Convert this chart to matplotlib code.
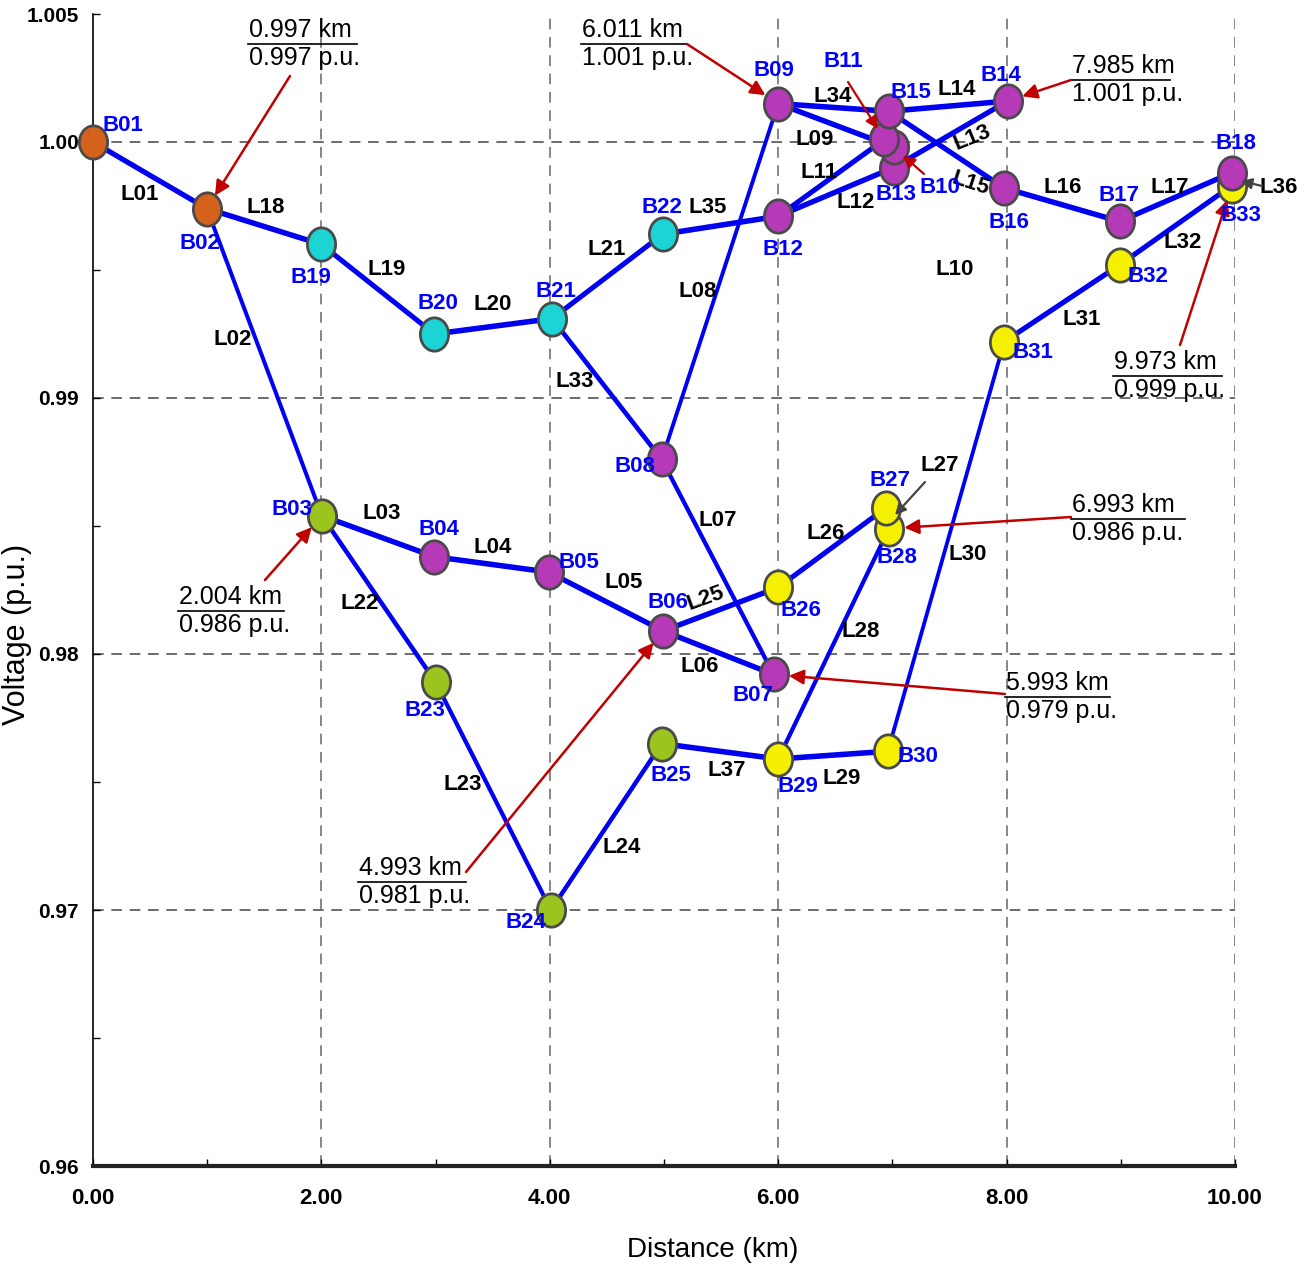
import numpy as np
import matplotlib.pyplot as plt
from matplotlib.path import Path

plt.rcParams['font.family'] = ['Liberation Sans Narrow', 'Liberation Sans', 'DejaVu Sans']

# bus data: distance from source (km) and voltage (p.u.)
bus_names = ['B01', 'B02', 'B03', 'B04', 'B05', 'B06', 'B07', 'B08', 'B09', 'B10', 'B11',
             'B12', 'B13', 'B14', 'B15', 'B16', 'B17', 'B18', 'B19', 'B20', 'B21', 'B22',
             'B23', 'B24', 'B25', 'B26', 'B27', 'B28', 'B29', 'B30', 'B31', 'B32', 'B33']
bus_km = [0.00, 0.997, 2.004, 2.99, 3.99, 4.993, 5.96, 4.98, 6.00, 7.01, 6.93,
          6.00, 7.01, 8.01, 6.97, 7.98, 8.99, 9.973, 2.00, 2.99, 4.02, 4.99,
          3.00, 4.01, 4.98, 6.00, 6.94, 6.97, 6.00, 6.96, 7.98, 8.99, 9.973]
bus_pu = [1.0000, 0.9974, 0.9854, 0.9838, 0.9832, 0.9809, 0.9792, 0.9876, 1.0015, 0.9998, 1.0001,
          0.9971, 0.9990, 1.0016, 1.0012, 0.9982, 0.9969, 0.9988, 0.9960, 0.9925, 0.9931, 0.9964,
          0.9789, 0.9700, 0.9765, 0.9826, 0.9857, 0.9849, 0.9759, 0.9762, 0.9922, 0.9952, 0.9983]
bus_group = ['src', 'src', 'g1', 'p', 'p', 'p', 'p', 'p', 'p', 'p', 'p',
             'p', 'p', 'p', 'p', 'p', 'p', 'p', 'c', 'c', 'c', 'c',
             'g1', 'g1', 'g1', 'y', 'y', 'y', 'y', 'y', 'y', 'y', 'y']

# branches
line_names = ['L01', 'L02', 'L03', 'L04', 'L05', 'L06', 'L07', 'L08', 'L09', 'L10', 'L11', 'L12',
              'L13', 'L14', 'L15', 'L16', 'L17', 'L18', 'L19', 'L20', 'L21', 'L22', 'L23', 'L24',
              'L25', 'L26', 'L27', 'L28', 'L29', 'L30', 'L31', 'L32', 'L33', 'L34', 'L35', 'L36', 'L37']
line_from = ['B01', 'B02', 'B03', 'B04', 'B05', 'B06', 'B07', 'B08', 'B09', 'B10', 'B11', 'B12',
             'B13', 'B14', 'B15', 'B16', 'B17', 'B02', 'B19', 'B20', 'B21', 'B03', 'B23', 'B24',
             'B06', 'B26', 'B27', 'B28', 'B29', 'B30', 'B31', 'B32', 'B21', 'B09', 'B22', 'B33', 'B25']
line_to = ['B02', 'B03', 'B04', 'B05', 'B06', 'B07', 'B08', 'B09', 'B10', 'B11', 'B12', 'B13',
           'B14', 'B15', 'B16', 'B17', 'B18', 'B19', 'B20', 'B21', 'B22', 'B23', 'B24', 'B25',
           'B26', 'B27', 'B28', 'B29', 'B30', 'B31', 'B32', 'B33', 'B08', 'B15', 'B12', 'B18', 'B29']

# annotated buses
annot_bus = ['B02', 'B09', 'B14', 'B33', 'B03', 'B06', 'B07', 'B28']
annot_km = ['0.997 km', '6.011 km', '7.985 km', '9.973 km', '2.004 km', '4.993 km', '5.993 km', '6.993 km']
annot_pu = ['0.997 p.u.', '1.001 p.u.', '1.001 p.u.', '0.999 p.u.', '0.986 p.u.', '0.981 p.u.',
            '0.979 p.u.', '0.986 p.u.']

colors = {'src': '#D4621C', 'g1': '#9CC41E', 'p': '#B63AB8', 'c': '#1CD4D4', 'y': '#F4F000'}
idx = {n: i for i, n in enumerate(bus_names)}

W, H = 1313, 1272
fig = plt.figure(figsize=(W / 100, H / 100), dpi=100)
ax = fig.add_axes([93 / W, 1 - 1166 / H, 1142 / W, 1152 / H])
ax.set_xlim(0, 10)
ax.set_ylim(0.96, 1.005)


def px(xp, yp):
    # reference pixel -> data coords
    return (xp - 93) / 114.2, 1 - (yp - 142) / 25600.0


# grid
for v in [0.97, 0.98, 0.99, 1.00]:
    ax.axhline(v, color='#444444', lw=1.1, ls=(0, (7, 5)), zorder=0)
for v in [2, 4, 6, 8, 10]:
    ax.axvline(v, color='#666666', lw=1.1, ls=(0, (7, 5)), zorder=0)

# branches
for a, b in zip(line_from, line_to):
    i, j = idx[a], idx[b]
    p = ax.transData.transform([(bus_km[i], bus_pu[i]), (bus_km[j], bus_pu[j])])
    d = p[1] - p[0]
    c = abs(d[0]) / max(np.hypot(d[0], d[1]), 1e-9)
    ax.plot([bus_km[i], bus_km[j]], [bus_pu[i], bus_pu[j]], color='#0000F0',
            lw=2.3 + 1.7 * c, solid_capstyle='round', zorder=2)

# buses (elliptic markers)
circ = Path.unit_circle()
ell = Path(circ.vertices * np.array([1.0, 1.18]), circ.codes)
order = np.argsort(bus_pu)
for k in order:
    ax.scatter(bus_km[k], bus_pu[k], s=24 ** 2, marker=ell, color=colors[bus_group[k]],
               edgecolors='#4a4a4a', linewidths=2, zorder=4, clip_on=False)

# bus labels (offset in px, y down)
bus_off = {'B01': (30, -16), 'B02': (-7, 35), 'B03': (-30, -6), 'B04': (4, -27), 'B05': (30, -10),
           'B06': (5, -28), 'B07': (-21, 21), 'B08': (-27, 7), 'B09': (-4, -33), 'B12': (5, 33),
           'B13': (2, 27), 'B14': (-7, -26), 'B15': (22, -19), 'B16': (5, 34), 'B17': (-1, -26),
           'B18': (4, -29), 'B19': (-10, 33), 'B20': (3, -30), 'B21': (4, -27), 'B22': (-1, -27),
           'B23': (-11, 28), 'B24': (-25, 13), 'B25': (9, 32), 'B26': (23, 23), 'B27': (4, -28),
           'B28': (8, 29), 'B29': (20, 28), 'B30': (30, 5), 'B31': (29, 11), 'B32': (28, 12),
           'B33': (9, 30)}
for n, (dx, dy) in bus_off.items():
    i = idx[n]
    ax.annotate(n, (bus_km[i], bus_pu[i]), xytext=(dx * 0.72, -dy * 0.72), textcoords='offset points',
                ha='center', va='center', color='#0000FF', fontsize=16, fontweight='bold', zorder=7)

# B10 / B11 labels with arrows
for n, lab, st in [('B11', (843, 62), (848, 82)), ('B10', (940, 188), (924, 174))]:
    i = idx[n]
    ax.text(*px(*lab), n, ha='center', va='center', color='#0000FF', fontsize=16,
            fontweight='bold', zorder=7)
    ax.annotate('', xy=(bus_km[i], bus_pu[i]), xytext=px(*st),
                arrowprops=dict(arrowstyle='-|>', color='#C00000', lw=1.6, mutation_scale=18,
                                shrinkA=0, shrinkB=9), zorder=6)

# branch labels (px positions, rotation)
line_lab = {'L01': (140, 195, 0), 'L02': (233, 340, 0), 'L03': (382, 514, 0), 'L04': (493, 548, 0),
            'L05': (624, 583, 0), 'L06': (700, 667, 0), 'L07': (718, 521, 0), 'L08': (698, 292, 0),
            'L09': (815, 140, 0), 'L10': (955, 270, 0), 'L11': (819, 173, 0), 'L12': (856, 203, 0),
            'L13': (972, 138, 22), 'L14': (957, 90, 0), 'L15': (970, 184, -18), 'L16': (1063, 188, 0),
            'L17': (1170, 188, 0), 'L18': (266, 208, 0), 'L19': (387, 270, 0), 'L20': (493, 305, 0),
            'L21': (607, 250, 0), 'L22': (360, 604, 0), 'L23': (463, 785, 0), 'L24': (622, 848, 0),
            'L25': (706, 598, 20), 'L26': (826, 534, 0), 'L27': (940, 466, 0), 'L28': (861, 632, 0),
            'L29': (842, 778, 0), 'L30': (968, 555, 0), 'L31': (1082, 320, 0), 'L32': (1183, 243, 0),
            'L33': (575, 382, 0), 'L34': (833, 97, 0), 'L35': (708, 208, 0), 'L36': (1279, 188, 0),
            'L37': (727, 771, 0)}
for n in line_names:
    xp, yp, r = line_lab[n]
    ax.text(*px(xp, yp), n, ha='center', va='center', fontsize=16, fontweight='bold',
            rotation=r, zorder=5, clip_on=False)

# gray pointer arrows for the short branches
for st, en in [((925, 482), (895, 515)), ((1262, 186), (1241, 181))]:
    ax.annotate('', xy=px(*en), xytext=px(*st),
                arrowprops=dict(arrowstyle='-|>', color='#444444', lw=1.6, mutation_scale=16,
                                shrinkA=0, shrinkB=0), zorder=6, annotation_clip=False)

# distance / voltage call-outs
note_pos = [(248, 44, 357, (290, 76)), (581, 44, 687, (687, 44)), (1071, 80, 1170, (1071, 80)),
            (1113, 376, 1222, (1180, 345)), (178, 611, 284, (265, 580)), (358, 882, 466, (466, 872)),
            (1005, 697, 1110, (1005, 694)), (1071, 519, 1185, (1071, 517))]
for n, t1, t2, (xl, yb, xr, st) in zip(annot_bus, annot_km, annot_pu, note_pos):
    i = idx[n]
    x0, y0 = px(xl, yb)
    x1, _ = px(xr, yb)
    ax.plot([x0, x1], [y0, y0], color='black', lw=1.2, zorder=6, clip_on=False)
    ax.text(x0 + 0.01, y0 + 0.00008, t1, ha='left', va='bottom', fontsize=18, zorder=6)
    ax.text(x0 + 0.01, y0 - 0.00008, t2, ha='left', va='top', fontsize=18, zorder=6)
    ax.annotate('', xy=(bus_km[i], bus_pu[i]), xytext=px(*st),
                arrowprops=dict(arrowstyle='-|>', color='#C00000', lw=1.8, mutation_scale=22,
                                shrinkA=0, shrinkB=11), zorder=6)

# axes styling
for s in ['top', 'right']:
    ax.spines[s].set_visible(False)
ax.spines['left'].set_linewidth(1.2)
ax.spines['bottom'].set_linewidth(3)
ax.spines['bottom'].set_color('#222222')

ax.set_xticks([0, 2, 4, 6, 8, 10])
ax.set_xticklabels(['0.00', '2.00', '4.00', '6.00', '8.00', '10.00'])
ax.set_xticks([1, 3, 5, 7, 9], minor=True)
ax.set_yticks([0.96, 0.97, 0.98, 0.99, 1.00, 1.005])
ax.set_yticklabels(['0.96', '0.97', '0.98', '0.99', '1.00', '1.005'])
ax.set_yticks([0.965, 0.975, 0.985, 0.995], minor=True)
ax.tick_params(axis='both', which='both', direction='in', length=5, width=1)
ax.tick_params(axis='x', which='both', pad=16, labelsize=16)
ax.tick_params(axis='y', which='both', pad=10, labelsize=15)
for t in ax.get_xticklabels() + ax.get_yticklabels():
    t.set_fontweight('bold')

ax.set_xlabel('Distance (km)', fontsize=20)
ax.xaxis.set_label_coords(0.543, -0.062)
ax.set_ylabel('Voltage (p.u.)', fontsize=22, family=['Liberation Sans', 'DejaVu Sans'])
ax.yaxis.set_label_coords(-0.053, 0.461)

fig.savefig('out.png', dpi=100)
